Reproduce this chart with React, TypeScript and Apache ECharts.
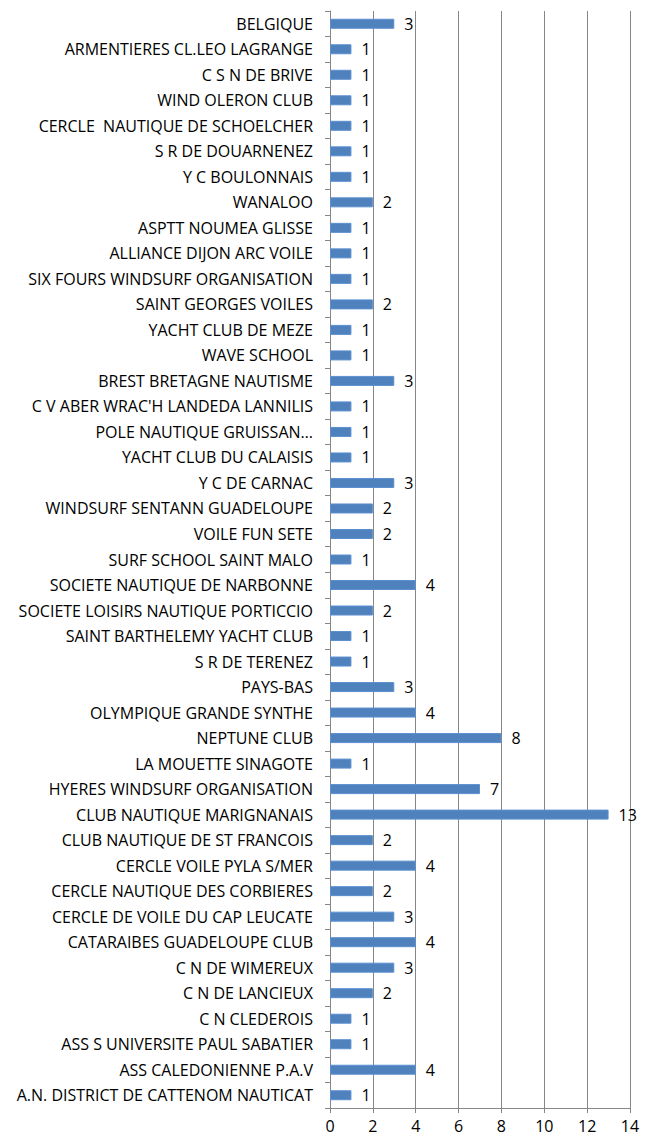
import React, { useEffect, useRef } from "react";
import * as echarts from "echarts";

const categories: string[] = [
  "BELGIQUE",
  "ARMENTIERES CL.LEO LAGRANGE",
  "C S N DE BRIVE",
  "WIND OLERON CLUB",
  "CERCLE  NAUTIQUE DE SCHOELCHER",
  "S R DE DOUARNENEZ",
  "Y C BOULONNAIS",
  "WANALOO",
  "ASPTT NOUMEA GLISSE",
  "ALLIANCE DIJON ARC VOILE",
  "SIX FOURS WINDSURF ORGANISATION",
  "SAINT GEORGES VOILES",
  "YACHT CLUB DE MEZE",
  "WAVE SCHOOL",
  "BREST BRETAGNE NAUTISME",
  "C V ABER WRAC'H LANDEDA LANNILIS",
  "POLE NAUTIQUE GRUISSAN…",
  "YACHT CLUB DU CALAISIS",
  "Y C DE CARNAC",
  "WINDSURF SENTANN GUADELOUPE",
  "VOILE FUN SETE",
  "SURF SCHOOL SAINT MALO",
  "SOCIETE NAUTIQUE DE NARBONNE",
  "SOCIETE LOISIRS NAUTIQUE PORTICCIO",
  "SAINT BARTHELEMY YACHT CLUB",
  "S R DE TERENEZ",
  "PAYS-BAS",
  "OLYMPIQUE GRANDE SYNTHE",
  "NEPTUNE CLUB",
  "LA MOUETTE SINAGOTE",
  "HYERES WINDSURF ORGANISATION",
  "CLUB NAUTIQUE MARIGNANAIS",
  "CLUB NAUTIQUE DE ST FRANCOIS",
  "CERCLE VOILE PYLA S/MER",
  "CERCLE NAUTIQUE DES CORBIERES",
  "CERCLE DE VOILE DU CAP LEUCATE",
  "CATARAIBES GUADELOUPE CLUB",
  "C N DE WIMEREUX",
  "C N DE LANCIEUX",
  "C N CLEDEROIS",
  "ASS S UNIVERSITE PAUL SABATIER",
  "ASS CALEDONIENNE P.A.V",
  "A.N. DISTRICT DE CATTENOM NAUTICAT",
];

const values: number[] = [
  3, 1, 1, 1, 1, 1, 1, 2, 1, 1, 1, 2, 1, 1, 3, 1, 1, 1, 3, 2, 2, 1, 4, 2, 1, 1,
  3, 4, 8, 1, 7, 13, 2, 4, 2, 3, 4, 3, 2, 1, 1, 4, 1,
];

const xMin = 0;
const xMax = 14;
const xInterval = 2;

const FONT = "'Open Sans', sans-serif";

export default function App() {
  const ref = useRef<HTMLDivElement>(null);

  useEffect(() => {
    if (!ref.current) return;
    const chart = echarts.init(ref.current, undefined, { renderer: "svg" });
    chart.setOption({
      animation: false,
      backgroundColor: "#ffffff",
      grid: { left: 330, right: 24, top: 11, bottom: 32 },
      xAxis: {
        type: "value",
        min: xMin,
        max: xMax,
        interval: xInterval,
        axisLine: { show: true, lineStyle: { color: "#868686", width: 1 } },
        axisTick: { show: true, length: 5, lineStyle: { color: "#868686" } },
        splitLine: { show: true, lineStyle: { color: "#868686", width: 1 } },
        axisLabel: {
          color: "#000",
          fontFamily: FONT,
          fontSize: 16,
          margin: 10,
        },
      },
      yAxis: {
        type: "category",
        data: categories,
        inverse: true,
        axisLine: { show: true, lineStyle: { color: "#868686", width: 1 } },
        axisTick: {
          show: true,
          length: 5,
          alignWithLabel: false,
          lineStyle: { color: "#868686" },
        },
        axisLabel: {
          color: "#000",
          fontFamily: FONT,
          fontSize: 16,
          margin: 17,
          interval: 0,
        },
      },
      series: [
        {
          type: "bar",
          data: values,
          barWidth: 10,
          itemStyle: { color: "#4F81BD", borderColor: "#5B8FD0", borderWidth: 1 },
          label: {
            show: true,
            position: "right",
            distance: 10,
            color: "#000",
            fontFamily: FONT,
            fontSize: 16,
          },
        },
      ],
    });
    return () => chart.dispose();
  }, []);

  return (
    <div
      ref={ref}
      style={{ position: "absolute", left: 0, top: 0, width: 654, height: 1140 }}
    />
  );
}
